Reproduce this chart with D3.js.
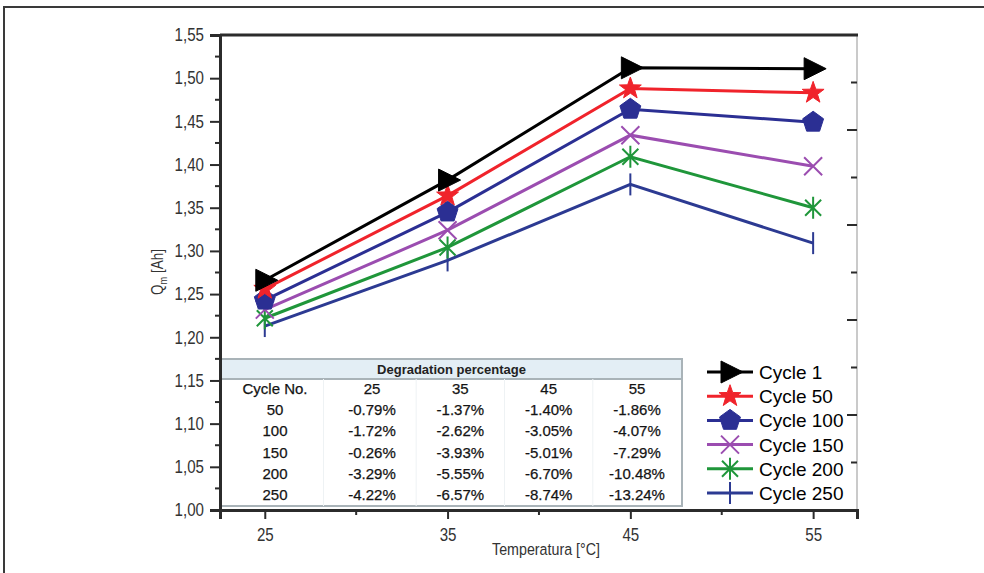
<!DOCTYPE html>
<html>
<head>
<meta charset="utf-8">
<script src="https://cdn.jsdelivr.net/npm/d3@7"></script>
<style>
  body { margin: 0; background: #fff; }
  svg { display: block; }
</style>
</head>
<body>
<script>
// Temperatures on the x axis
const temps = [25, 35, 45, 55];

// Capacity Qm [Ah] per cycle
const cycle1   = [1.266, 1.382, 1.512, 1.511];
const cycle50  = [1.256, 1.364, 1.488, 1.483];
const cycle100 = [1.243, 1.345, 1.464, 1.449];
const cycle150 = [1.232, 1.324, 1.434, 1.398];
const cycle200 = [1.222, 1.304, 1.409, 1.350];
const cycle250 = [1.213, 1.289, 1.377, 1.309];

const seriesNames = ["Cycle 1", "Cycle 50", "Cycle 100", "Cycle 150", "Cycle 200", "Cycle 250"];
const seriesValues = [cycle1, cycle50, cycle100, cycle150, cycle200, cycle250];
const seriesColors = ["#000000", "#f0232b", "#2b2f93", "#9b4db0", "#1f963a", "#2c3a92"];
const seriesMarks = ["triangle", "star", "pentagon", "times", "asterisk", "bar"];

// Degradation table
const tableTitle = "Degradation percentage";
const tableHeader = ["Cycle No.", "25", "35", "45", "55"];
const tableCycles = ["50", "100", "150", "200", "250"];
const deg25 = ["-0.79%", "-1.72%", "-0.26%", "-3.29%", "-4.22%"];
const deg35 = ["-1.37%", "-2.62%", "-3.93%", "-5.55%", "-6.57%"];
const deg45 = ["-1.40%", "-3.05%", "-5.01%", "-6.70%", "-8.74%"];
const deg55 = ["-1.86%", "-4.07%", "-7.29%", "-10.48%", "-13.24%"];

const yTicks = d3.range(1.00, 1.5501, 0.05);
const xTicks = temps;

const W = 984, H = 573;
const plot = { left: 220, right: 857, top: 35, bottom: 510 };
const squeeze = 0.84; // no condensed font installed, so squeeze the axis text

const svg = d3.select("body").append("svg")
    .attr("width", W)
    .attr("height", H);

// outer frame (top + left edge)
svg.append("path")
    .attr("d", `M4,${H} L4,7 L${W},7`)
    .attr("fill", "none")
    .attr("stroke", "#3a3a3a")
    .attr("stroke-width", 2);

const x = d3.scaleLinear()
    .domain([22.55, 57.4])
    .range([plot.left, plot.right]);

const y = d3.scaleLinear()
    .domain([1.00, 1.55])
    .range([plot.bottom, plot.top]);

// right axis has its own, slightly different spacing in the original
const yR = d3.scaleLinear()
    .domain([0, 10])
    .range([plot.top, plot.bottom]);

const sans = "'Liberation Sans', Arial, Helvetica, sans-serif";

// plot frame: right side light grey, top dark
svg.append("line")
    .attr("x1", plot.right).attr("x2", plot.right)
    .attr("y1", plot.top).attr("y2", plot.bottom)
    .attr("stroke", "#b8b8b8").attr("stroke-width", 1.5);
svg.append("line")
    .attr("x1", plot.left).attr("x2", plot.right + 1)
    .attr("y1", plot.top).attr("y2", plot.top)
    .attr("stroke", "#2b2b2b").attr("stroke-width", 3);

// right axis ticks (inward)
svg.append("g")
    .selectAll("line")
    .data(d3.range(1, 10))
    .join("line")
    .attr("x1", d => plot.right - (d % 2 === 0 ? 10 : 6))
    .attr("x2", plot.right)
    .attr("y1", d => yR(d))
    .attr("y2", d => yR(d))
    .attr("stroke", "#2b2b2b")
    .attr("stroke-width", 2);

// ---- table (drawn before the axes so the axes sit on top) ----
const table = { left: 221, right: 682, top: 359, bottom: 506, headH: 20 };
const colX = d3.scaleLinear().domain([0, 1, 4]).range([275, 372, 637]);
const rowY = d3.scaleLinear().domain([0, 5]).range([389, 495]);

svg.append("rect")
    .attr("x", table.left).attr("y", table.top)
    .attr("width", table.right - table.left)
    .attr("height", table.bottom - table.top)
    .attr("fill", "#ffffff")
    .attr("stroke", "#a9b3b8")
    .attr("stroke-width", 2);
svg.append("rect")
    .attr("x", table.left).attr("y", table.top)
    .attr("width", table.right - table.left)
    .attr("height", table.headH)
    .attr("fill", "#e3eef5")
    .attr("stroke", "#a9b3b8")
    .attr("stroke-width", 2);

// faint cell grid
svg.append("g")
    .selectAll("line")
    .data(d3.range(0.5, 4.5, 1))
    .join("line")
    .attr("x1", d => colX(d)).attr("x2", d => colX(d))
    .attr("y1", table.top + table.headH).attr("y2", table.bottom)
    .attr("stroke", "#eef2f4").attr("stroke-width", 1);

svg.append("text")
    .attr("x", (table.left + table.right) / 2)
    .attr("y", table.top + 15)
    .attr("text-anchor", "middle")
    .style("font-family", sans)
    .style("font-size", "13px")
    .style("font-weight", "bold")
    .attr("fill", "#222")
    .text(tableTitle);

const tableRows = [tableHeader].concat(
    tableCycles.map((c, i) => [c, deg25[i], deg35[i], deg45[i], deg55[i]])
);

tableRows.forEach((row, r) => {
    svg.append("g")
        .selectAll("text")
        .data(row)
        .join("text")
        .attr("x", (d, c) => colX(c))
        .attr("y", rowY(r) + 5)
        .attr("text-anchor", "middle")
        .style("font-family", sans)
        .style("font-size", "15px")
        .attr("fill", "#141414")
        .attr("stroke", "#141414")
        .attr("stroke-width", 0.25)
        .text(d => d);
});

// ---- axes ----
const yAxis = svg.append("g")
    .attr("transform", `translate(${plot.left},0)`)
    .call(d3.axisLeft(y).tickValues(yTicks).tickSize(10).tickPadding(6)
        .tickFormat(d => d3.format(".2f")(d).replace(".", ",")));
yAxis.select(".domain").attr("stroke", "#2b2b2b").attr("stroke-width", 3);
yAxis.selectAll(".tick line").attr("stroke", "#2b2b2b").attr("stroke-width", 2);
yAxis.selectAll(".tick text")
    .attr("x", -16 / squeeze)
    .attr("transform", `scale(${squeeze},1)`)
    .style("font-family", sans).style("font-size", "18px").attr("fill", "#333");

svg.append("g")
    .selectAll("line")
    .data(yTicks.slice(0, -1).map(v => v + 0.025))
    .join("line")
    .attr("x1", plot.left - 5).attr("x2", plot.left)
    .attr("y1", d => y(d)).attr("y2", d => y(d))
    .attr("stroke", "#2b2b2b").attr("stroke-width", 2);

const xAxis = svg.append("g")
    .attr("transform", `translate(0,${plot.bottom})`)
    .call(d3.axisBottom(x).tickValues(xTicks).tickSize(9).tickPadding(9)
        .tickFormat(d3.format("d")));
xAxis.select(".domain").attr("stroke", "#2b2b2b").attr("stroke-width", 3);
xAxis.selectAll(".tick line").attr("stroke", "#2b2b2b").attr("stroke-width", 2);
xAxis.selectAll(".tick text")
    .attr("transform", `scale(${squeeze},1)`)
    .style("font-family", sans).style("font-size", "18px").attr("fill", "#333");

svg.append("g")
    .selectAll("line")
    .data([30, 40, 50])
    .join("line")
    .attr("x1", d => x(d)).attr("x2", d => x(d))
    .attr("y1", plot.bottom).attr("y2", plot.bottom + 5)
    .attr("stroke", "#2b2b2b").attr("stroke-width", 2);

// axis titles
svg.append("text")
    .attr("transform", `translate(546,555) scale(${squeeze},1)`)
    .attr("text-anchor", "middle")
    .style("font-family", sans)
    .style("font-size", "17px")
    .attr("fill", "#333")
    .text("Temperatura [°C]");

const yTitle = svg.append("text")
    .attr("transform", `translate(163,272) rotate(-90) scale(${squeeze},1)`)
    .attr("text-anchor", "middle")
    .style("font-family", sans)
    .style("font-size", "16px")
    .attr("fill", "#333");
yTitle.append("tspan").text("Q");
yTitle.append("tspan").attr("dy", 4).style("font-size", "11px").text("m");
yTitle.append("tspan").attr("dy", -4).text(" [Ah]");

// ---- markers ----
function polygon(pts) {
    return "M" + pts.map(p => p.join(",")).join("L") + "Z";
}

function markerPath(type) {
    if (type === "triangle") return polygon([[-9, -11], [-9, 11], [13, 0]]);
    if (type === "star") {
        const pts = d3.range(10).map(i => {
            const r = i % 2 === 0 ? 11.5 : 4.6;
            const a = -Math.PI / 2 + i * Math.PI / 5;
            return [r * Math.cos(a), r * Math.sin(a)];
        });
        return polygon(pts);
    }
    if (type === "pentagon") {
        const pts = d3.range(5).map(i => {
            const a = -Math.PI / 2 + i * 2 * Math.PI / 5;
            return [11 * Math.cos(a), 11 * Math.sin(a)];
        });
        return polygon(pts);
    }
    if (type === "times") return "M-9,-9L9,9M-9,9L9,-9";
    if (type === "asterisk") return "M-8,-8L8,8M-8,8L8,-8M0,-11L0,11";
    if (type === "bar") return "M0,-11L0,11";
}

function drawMarker(g, type, color, px, py) {
    const filled = type === "triangle" || type === "star" || type === "pentagon";
    g.append("path")
        .attr("transform", `translate(${px},${py})`)
        .attr("d", markerPath(type))
        .attr("fill", filled ? color : "none")
        .attr("stroke", color)
        .attr("stroke-width", filled ? 1 : 2)
        .attr("stroke-linejoin", "round");
}

const line = d3.line()
    .x((d, i) => x(temps[i]))
    .y(d => y(d));

const series = svg.append("g");
seriesValues.slice().reverse().forEach((vals, ri) => {
    const i = seriesValues.length - 1 - ri;
    const g = series.append("g");
    g.append("path")
        .datum(vals)
        .attr("d", line)
        .attr("fill", "none")
        .attr("stroke", seriesColors[i])
        .attr("stroke-width", 3);
    vals.forEach((v, k) => drawMarker(g, seriesMarks[i], seriesColors[i], x(temps[k]), y(v)));
});

// ---- legend ----
const legendY = d3.scaleLinear().domain([0, 5]).range([372, 493]);
const legend = svg.append("g");
seriesNames.forEach((name, i) => {
    const ly = legendY(i);
    legend.append("line")
        .attr("x1", 707).attr("x2", 753)
        .attr("y1", ly).attr("y2", ly)
        .attr("stroke", seriesColors[i])
        .attr("stroke-width", 3);
    drawMarker(legend, seriesMarks[i], seriesColors[i], 730, ly);
    legend.append("text")
        .attr("x", 759)
        .attr("y", ly + 7)
        .style("font-family", sans)
        .style("font-size", "19px")
        .attr("fill", "#000")
        .text(name);
});
</script>
</body>
</html>
